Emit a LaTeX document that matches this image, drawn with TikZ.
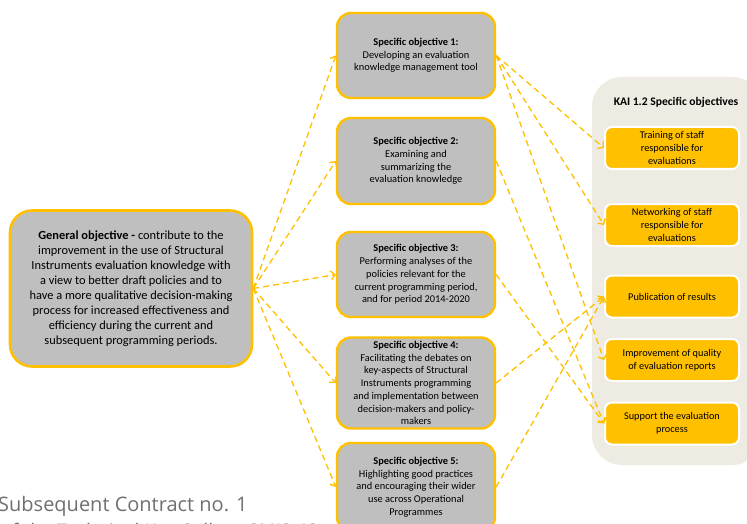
\documentclass[tikz,border=0pt]{standalone}
\usepackage{fontspec}
\setmainfont{Carlito}
\newfontfamily\footfont{Open Sans}
\usetikzlibrary{arrows.meta}
\definecolor{gold}{HTML}{FFC000}
\definecolor{boxgray}{HTML}{BFBFBF}
\definecolor{panelbg}{HTML}{EEEBE2}
\definecolor{foot}{HTML}{707070}
\tikzset{
 genbox/.style={draw=gold, line width=2.6pt, fill=boxgray, rounded corners=22pt, align=center, inner sep=0pt, font=\fontsize{12.4}{15}\selectfont},
 sobox/.style={draw=gold, line width=2.4pt, fill=boxgray, rounded corners=14pt, minimum width=158pt, align=center, inner sep=0pt, font=\fontsize{10.4}{12.7}\selectfont},
 kaibox/.style={draw=white, line width=2pt, fill=gold, rounded corners=7pt, minimum width=134pt, minimum height=42pt, align=center, inner sep=0pt, font=\fontsize{10.3}{12.6}\selectfont},
 panelbox/.style={fill=panelbg, rounded corners=30pt, minimum width=170pt, minimum height=388pt, inner sep=0pt},
 link/.style={draw=gold, line width=1.3pt, dash pattern=on 6pt off 4pt, -{Straight Barb[length=4pt, width=9pt]}},
 foottext/.style={anchor=base west, inner sep=0pt, text=foot},
}
\begin{document}
\begin{tikzpicture}[x=1pt,y=-1pt]
\useasboundingbox (0,0) rectangle (747,524);
\clip (0,0) rectangle (747,524);
\fill[white] (0,0) rectangle (747,524);

% right panel
\node[panelbox] (panel) at (677,271) {};
\node[font=\bfseries\fontsize{11.6}{13}\selectfont, inner sep=0pt] (title) at (676,102) {KAI 1.2 Specific objectives};

% general objective
\node[genbox, minimum width=242pt, minimum height=156pt] (gen) at (131,288.5)
 {\textbf{General objective -} contribute to the\\
 improvement in the use of Structural\\
 Instruments evaluation knowledge with\\
 a view to better draft policies and to\\
 have a more qualitative decision-making\\
 process for increased effectiveness and\\
 efficiency during the current and\\
 subsequent programming periods.};

% specific objectives
\node[sobox, minimum height=85pt] (so1) at (416,55.5)
 {\textbf{Specific objective 1:}\\Developing an evaluation\\knowledge management tool};
\node[sobox, minimum height=86pt] (so2) at (416,161)
 {\textbf{Specific objective 2:}\\Examining and\\summarizing the\\evaluation knowledge};
\node[sobox, minimum height=85pt] (so3) at (416,274.5)
 {\textbf{Specific objective 3:}\\Performing analyses of the\\policies relevant for the\\current programming period,\\and for period 2014-2020};
\node[sobox, minimum height=91pt] (so4) at (416,383)
 {\textbf{Specific objective 4:}\\Facilitating the debates on\\key-aspects of Structural\\Instruments programming\\and implementation between\\decision-makers and policy-\\makers};
\node[sobox, minimum height=88pt] (so5) at (416,487)
 {\textbf{Specific objective 5:}\\Highlighting good practices\\and encouraging their wider\\use across Operational\\Programmes};

% KAI boxes
\node[kaibox] (k1) at (672,148) {Training of staff\\responsible for\\evaluations};
\node[kaibox] (k2) at (672,225) {Networking of staff\\responsible for\\evaluations};
\node[kaibox] (k3) at (672,296.5) {Publication of results};
\node[kaibox] (k4) at (672,360) {Improvement of quality\\of evaluation reports};
\node[kaibox] (k5) at (672,423.5) {Support the evaluation\\process};

% footer
\node[foottext, font=\footfont\fontsize{20}{22}\selectfont] (foot1) at (-2,511) {Subsequent Contract no. 1};
\node[foottext, font=\footfont\itshape\fontsize{20}{22}\selectfont] (foot2) at (-1,538) {of the Technical Key College SMIS 48};

% connectors
\draw[link] (gen.east) -- (so1.west);
\draw[link] (gen.east) -- (so2.west);
\draw[link] (gen.east) -- (so3.west);
\draw[link] (gen.east) -- (so4.west);
\draw[link] (gen.east) -- (so5.west);

\draw[link] (so1.east) -- (k1.west);
\draw[link] (so1.east) -- (k2.west);
\draw[link] (so1.east) -- (k4.west);
\draw[link] (so2.east) -- (k5.west);
\draw[link] (so3.east) -- (k5.west);
\draw[link] (so4.east) -- (k3.west);
\draw[link] (so5.east) -- (k3.west);
\end{tikzpicture}
\end{document}
